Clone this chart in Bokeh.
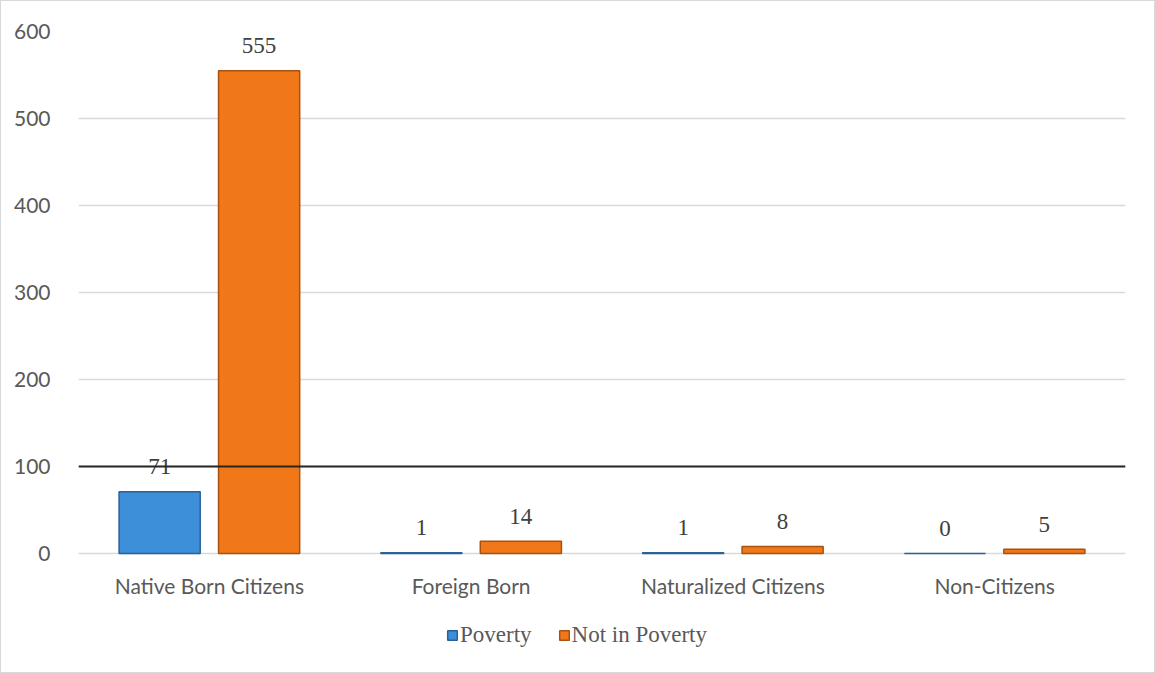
from bokeh.plotting import figure
from bokeh.models import ColumnDataSource, FactorRange, Range1d, Span, Legend, LegendItem, LabelSet
from bokeh.core.properties import value
from bokeh.transform import dodge
from bokeh.embed import file_html
from bokeh.resources import INLINE

categories = ["Native Born Citizens", "Foreign Born", "Naturalized Citizens", "Non-Citizens"]
poverty = [71, 1, 1, 0]
not_poverty = [555, 14, 8, 5]
y_ticks = [0, 100, 200, 300, 400, 500, 600]
reference_line = 100

# layout (pixels): value axis spans 522 px; frame extends below it to hold labels & legend
axis_px = 522
frame_px = 629
y_max = 600
y_min = -y_max * (frame_px - axis_px) / axis_px

src = ColumnDataSource(dict(cat=categories, pov=poverty, notpov=not_poverty,
                            base=[0] * len(categories),
                            pov_lbl=[str(v) for v in poverty],
                            notpov_lbl=[str(v) for v in not_poverty]))

p = figure(frame_width=1047, frame_height=frame_px, x_range=FactorRange(*categories, range_padding=0),
           y_range=Range1d(y_min, y_max), output_backend="svg", toolbar_location=None,
           min_border_left=77, min_border_right=29, min_border_top=30, min_border_bottom=12,
           styles={"border": "1px solid #d9d9d9"})
p.outline_line_color = None
p.background_fill_color = "white"
p.border_fill_color = "white"

p.xaxis.visible = False
p.xgrid.grid_line_color = None
p.ygrid.grid_line_color = "#d9d9d9"
p.ygrid.grid_line_width = 1.5
p.yaxis.ticker = y_ticks
p.yaxis.axis_line_color = None
p.yaxis.major_tick_line_color = None
p.yaxis.minor_tick_line_color = None
p.yaxis.major_label_text_font = "Lato"
p.yaxis.major_label_text_font_size = "21px"
p.yaxis.major_label_text_color = "#595959"
p.yaxis.major_label_standoff = 22

# category labels under the zero line
p.add_layout(LabelSet(x="cat", y="base", text="cat", source=src, text_align="center",
                      text_baseline="middle", y_offset=-32, text_font=value("Lato"),
                      text_font_size="21px", text_color="#595959"))

off = 0.19
w = 0.31
r1 = p.vbar(x=dodge("cat", -off, range=p.x_range), top="pov", width=w, source=src,
            fill_color="#3d8fd9", line_color="#2a6196", line_width=1.5)
r2 = p.vbar(x=dodge("cat", off, range=p.x_range), top="notpov", width=w, source=src,
            fill_color="#f07818", line_color="#a9520f", line_width=1.5)

for col, lbl, dx in (("pov", "pov_lbl", -off), ("notpov", "notpov_lbl", off)):
    p.add_layout(LabelSet(x=dodge("cat", dx, range=p.x_range), y=col, text=lbl, source=src,
                          text_align="center", text_baseline="middle", y_offset=25,
                          text_font=value("Liberation Serif"), text_font_size="23px",
                          text_color="#404040"))

p.add_layout(Span(location=reference_line, dimension="width", line_color="#262626", line_width=2))

legend = Legend(items=[LegendItem(label="Poverty", renderers=[r1]),
                       LegendItem(label="Not in Poverty", renderers=[r2])],
                orientation="horizontal", location=(368, 12),
                label_text_font="Liberation Serif", label_text_font_size="23px",
                label_text_color="#595959", glyph_width=12, glyph_height=12,
                spacing=26, label_standoff=2, border_line_color=None, padding=0, margin=0,
                background_fill_alpha=0)
p.add_layout(legend, "center")

open("out.html", "w").write(file_html(p, INLINE))
